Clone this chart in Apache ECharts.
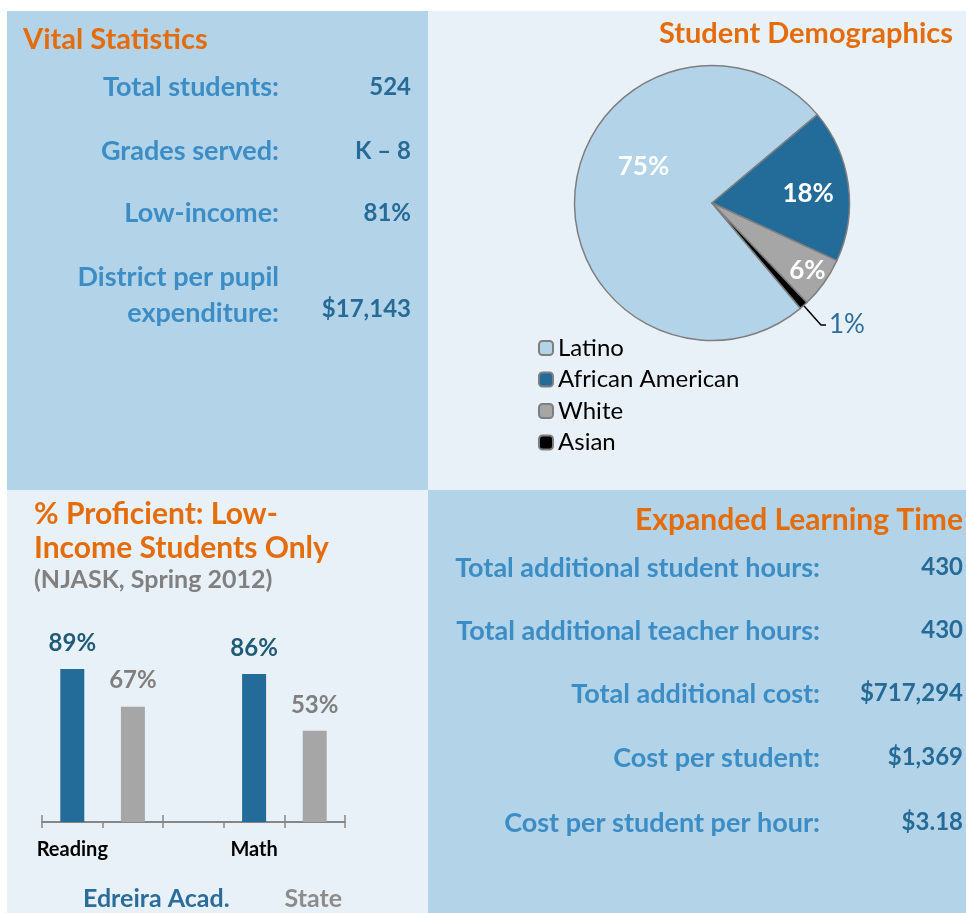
<!DOCTYPE html>
<html><head><meta charset="utf-8">
<script src="https://cdn.jsdelivr.net/npm/echarts/dist/echarts.min.js"></script>
<style>html,body{margin:0;padding:0;background:#fff}#c{width:966px;height:913px}</style>
</head><body><div id="c"></div>
<script>
// ---- data ----
const vitalLabels = ['Total students:', 'Grades served:', 'Low-income:', 'District per pupil\nexpenditure:'];
const vitalValues = ['524', 'K \u2013 8', '81%', '$17,143'];
const demoCategories = ['Latino', 'African American', 'White', 'Asian'];
const demoValues = [75, 18, 6, 1];
const subjects = ['Reading', 'Math'];
const academyScores = [89, 86];
const stateScores = [67, 53];
const seriesNames = ['Edreira Acad.', 'State'];
const eltLabels = ['Total additional student hours:', 'Total additional teacher hours:', 'Total additional cost:', 'Cost per student:', 'Cost per student per hour:'];
const eltValues = ['430', '430', '$717,294', '$1,369', '$3.18'];

// ---- styles ----
const LIGHTBLUE = '#b3d4e8', PALE = '#e9f1f8', ORANGE = '#e46c0a';
const LABELBLUE = '#3c8dc5', VALUEBLUE = '#266a97';
const FONT = 'Lato';
const pieColors = ['#b3d4e8', '#236b98', '#a6a6a6', '#000000'];

const barCats = [], acadData = [], stateData = [];
subjects.forEach((s, i) => {
  if (i > 0) { barCats.push('gap' + i); acadData.push('-'); stateData.push('-'); }
  barCats.push(s); acadData.push(academyScores[i]); stateData.push('-');
  barCats.push(s + ' state'); acadData.push('-'); stateData.push(stateScores[i]);
});

const graphics = [
  {type:'rect', shape:{x:7,y:11,width:421,height:479}, style:{fill:LIGHTBLUE}, z:0, silent:true},
  {type:'rect', shape:{x:428,y:11,width:538,height:479}, style:{fill:PALE}, z:0, silent:true},
  {type:'rect', shape:{x:7,y:490,width:421,height:423}, style:{fill:PALE}, z:0, silent:true},
  {type:'rect', shape:{x:428,y:490,width:538,height:423}, style:{fill:LIGHTBLUE}, z:0, silent:true}
];
function txt(text, x, y, color, size, align, extra) {
  graphics.push({type:'text', z:10, silent:true, style:Object.assign({
    text, x, y, fill:color, font:'bold ' + size + 'px ' + FONT,
    textAlign:align||'left', textVerticalAlign:'middle'}, extra||{})});
}
txt('Vital Statistics', 23, 40, ORANGE, 29, 'left');
txt('Student Demographics', 953, 34, ORANGE, 29, 'right');
txt('Expanded Learning Time', 963, 520, ORANGE, 30, 'right');
txt('% Proficient: Low-\nIncome Students Only', 34, 497, ORANGE, 30, 'left', {textVerticalAlign:'top', lineHeight:34});
txt('(NJASK, Spring 2012)', 34, 580, '#808080', 25, 'left');

const vitalY = [87, 151, 213, 313];
vitalLabels.forEach((l, i) => {
  txt(l, 279, vitalY[i] + 18, LABELBLUE, 27, 'right', {textVerticalAlign:'bottom', lineHeight:36});
  txt(vitalValues[i], 411, vitalY[i] - (i === 3 ? 4 : 0), VALUEBLUE, 24, 'right');
});
const eltY = [568, 631, 694, 758, 823];
eltLabels.forEach((l, i) => {
  txt(l, 820, eltY[i], LABELBLUE, 27, 'right');
  txt(eltValues[i], 963, eltY[i] - 1, VALUEBLUE, 24, 'right');
});

const pieData = demoCategories.map((n, i) => {
  const d = {name:n, value:demoValues[i], itemStyle:{color:pieColors[i]}};
  if (i === 3) {
    d.label = {position:'outside', color:'#2a6e99', fontWeight:'normal', fontSize:26, distanceToLabelLine:3, padding:[0,0,6,0]};
    d.labelLine = {show:true, length:26, length2:5, lineStyle:{color:'#000', width:1.5}};
  }
  return d;
});
const pieShift = [[3, -30], [25, 0], [37, 26]];

const option = {
  animation:false,
  graphic: graphics,
  legend: [
    {data: demoCategories, orient:'vertical', left:533, top:331, itemWidth:14, itemHeight:14, itemGap:7.5,
     textStyle:{color:'#000', fontSize:24, fontFamily:FONT}, selectedMode:false},
    {data: [{name:seriesNames[0], textStyle:{color:'#2a6d9a'}}, {name:seriesNames[1], textStyle:{color:'#8c8c8c'}}],
     icon:'none', itemWidth:0, itemGap:50, left:73, top:881, selectedMode:false,
     textStyle:{fontSize:25, fontWeight:'bold', fontFamily:FONT}}
  ],
  grid: {left:42, width:303, top:650, height:172},
  xAxis: [
    {type:'category', data:barCats, axisLine:{lineStyle:{color:'#868686', width:2}},
     axisTick:{show:true, length:6, lineStyle:{color:'#868686', width:1.5}},
     axisLabel:{interval:0, margin:18, formatter:v => subjects.includes(v) ? v : '', color:'#000', fontWeight:'bold', fontSize:20, fontFamily:FONT}},
    {type:'category', data:barCats, position:'bottom', axisLine:{show:false},
     axisTick:{show:true, inside:true, length:7, lineStyle:{color:'#868686', width:1.5}}, axisLabel:{show:false}}
  ],
  yAxis: {type:'value', min:0, max:100, show:false},
  series: [
    {type:'pie', center:[712, 203], radius:137.5, startAngle:310, clockwise:true, avoidLabelOverlap:false,
     silent:true, data:pieData,
     itemStyle:{borderColor:'#7f7f7f', borderWidth:1.5},
     label:{show:true, position:'inside', formatter:'{c}%', color:'#fff', fontWeight:'bold', fontSize:26, fontFamily:FONT},
     labelLine:{show:false},
     labelLayout: p => (p.dataIndex < 3 ? {dx:pieShift[p.dataIndex][0], dy:pieShift[p.dataIndex][1]} : {})},
    {type:'bar', name:seriesNames[0], data:acadData, barWidth:24, barGap:'-100%', silent:true,
     itemStyle:{color:'#236b98'},
     label:{show:true, position:'top', distance:14, formatter:'{c}%', color:'#1f5b77', fontWeight:'bold', fontSize:24, fontFamily:FONT}},
    {type:'bar', name:seriesNames[1], data:stateData, barWidth:24, barGap:'-100%', silent:true,
     itemStyle:{color:'#a6a6a6'},
     label:{show:true, position:'top', distance:14, formatter:'{c}%', color:'#7f7f7f', fontWeight:'bold', fontSize:24, fontFamily:FONT}}
  ]
};
echarts.init(document.getElementById('c')).setOption(option);
</script></body></html>
